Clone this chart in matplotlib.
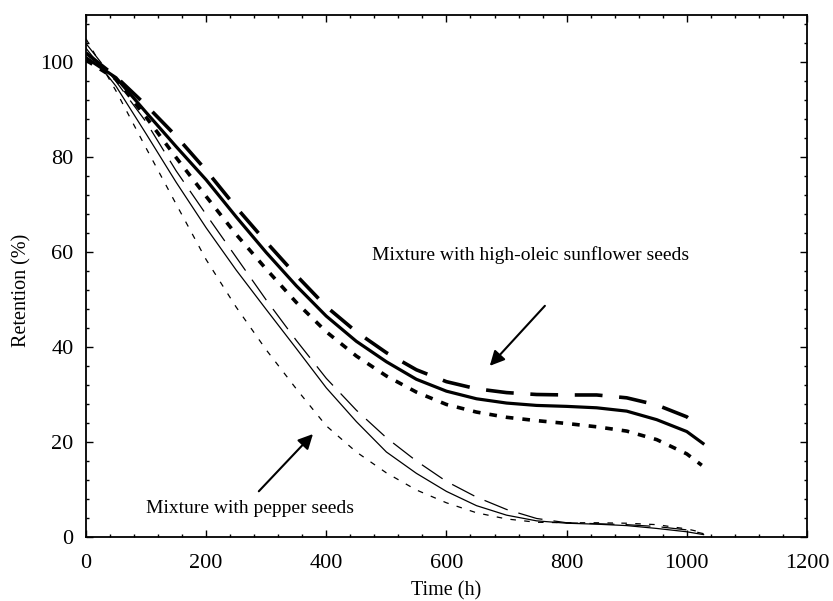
import matplotlib
matplotlib.use("Agg")
import matplotlib.pyplot as plt

plt.rcParams['font.family'] = ['Liberation Serif', 'DejaVu Serif']
plt.rcParams['lines.scale_dashes'] = False

# time axis (h) for each curve
t_sun_dash = [0, 50, 100, 150, 200, 250, 300, 350, 400, 450, 500, 550, 600, 650,
              700, 750, 800, 850, 900, 950, 1000, 1015]
t_sun_solid = [0, 50, 100, 150, 200, 250, 300, 350, 400, 450, 500, 550, 600, 650,
               700, 750, 800, 850, 900, 950, 1000, 1027]
t_sun_dot = [0, 50, 100, 150, 200, 250, 300, 350, 400, 450, 500, 550, 600, 650,
             700, 750, 800, 850, 900, 950, 1000, 1025]
t_pep = [0, 50, 100, 150, 200, 250, 300, 350, 400, 450, 500, 550, 600, 650,
         700, 750, 800, 850, 900, 950, 1000, 1028]

# retention (%) - high-oleic sunflower seeds
sun_dash = [102, 97, 91, 84.5, 77.3, 69.5, 62.2, 55.2, 48.6, 43.3, 38.9, 35.3, 32.8,
            31.3, 30.5, 30.1, 30, 30, 29.4, 27.9, 25.4, 24]
sun_solid = [101, 96.8, 89.5, 82.3, 75.3, 67.5, 60, 53, 46.6, 41.3, 37, 33.3, 30.8,
             29.2, 28.3, 27.8, 27.6, 27.3, 26.6, 24.8, 22.3, 19.8]
sun_dot = [100.5, 96.5, 88.5, 80, 71.8, 63.8, 56.5, 49.5, 43.3, 38.2, 34, 30.6, 28,
           26.4, 25.3, 24.6, 24, 23.3, 22.4, 20.6, 17.6, 15.2]

# retention (%) - pepper seeds
pep_dash = [104, 96, 87.5, 77.2, 68, 59, 50, 41.5, 33.5, 26.8, 21, 16.1, 11.8, 8.5,
            5.9, 4, 3.1, 2.9, 2.7, 2.3, 1.6, 0.8]
pep_solid = [103, 95, 85, 74.8, 65.2, 56.3, 48, 39.8, 31.5, 24.4, 18, 13.5, 9.7, 6.7,
             4.7, 3.5, 3.0, 2.8, 2.5, 1.9, 1.2, 0.6]
pep_dot = [105, 94, 82, 70.2, 58.5, 48.5, 39.5, 31.3, 23.5, 18, 13.6, 10, 7.3, 5.2,
           3.9, 3.2, 3.1, 3.1, 3.0, 2.7, 1.8, 1.0]

fig = plt.figure(figsize=(8.33, 6.01), dpi=100)
ax = fig.add_axes([0.1032, 0.1057, 0.8655, 0.8694])

# sunflower - thick lines
ax.plot(t_sun_dash, sun_dash, color='black', lw=2.6, dashes=(20, 12))
ax.plot(t_sun_solid, sun_solid, color='black', lw=2.3)
ax.plot(t_sun_dot, sun_dot, color='black', lw=2.6, dashes=(5.5, 6.5))

# pepper - thin lines
ax.plot(t_pep, pep_dash, color='black', lw=0.9, dashes=(18, 8))
ax.plot(t_pep, pep_solid, color='black', lw=0.9)
ax.plot(t_pep, pep_dot, color='black', lw=0.9, dashes=(4, 6))

ax.set_xlim(0, 1200)
ax.set_ylim(0, 110)
ax.set_xticks(range(0, 1201, 200))
ax.set_yticks(range(0, 101, 20))
ax.set_xticks(range(0, 1201, 40), minor=True)
ax.set_yticks(range(0, 110, 4), minor=True)
ax.tick_params(which='both', direction='in', top=True, right=True,
               labelsize=16, width=1)
ax.tick_params(which='major', length=5)
ax.tick_params(axis='y', which='major', pad=9)
ax.tick_params(axis='x', which='major', pad=12)
ax.tick_params(which='minor', length=2.5)
for s in ax.spines.values():
    s.set_linewidth(1.3)

ax.set_xlabel('Time (h)', fontsize=14.5, labelpad=6)
fig.text(0.026, 0.517, 'Retention (%)', rotation=90, fontsize=14.5,
         ha='center', va='center')

ax.annotate('', xy=(669, 35.7), xytext=(767, 49.2),
            arrowprops=dict(arrowstyle='-|>', color='black', lw=1.5,
                            mutation_scale=22))
ax.text(476, 59.5, 'Mixture with high-oleic sunflower seeds', fontsize=14,
        ha='left', va='center')

ax.annotate('', xy=(381, 22.2), xytext=(284.5, 9.3),
            arrowprops=dict(arrowstyle='-|>', color='black', lw=1.5,
                            mutation_scale=22))
ax.text(100, 6.1, 'Mixture with pepper seeds', fontsize=14,
        ha='left', va='center')

fig.savefig('out.png', dpi=100)
